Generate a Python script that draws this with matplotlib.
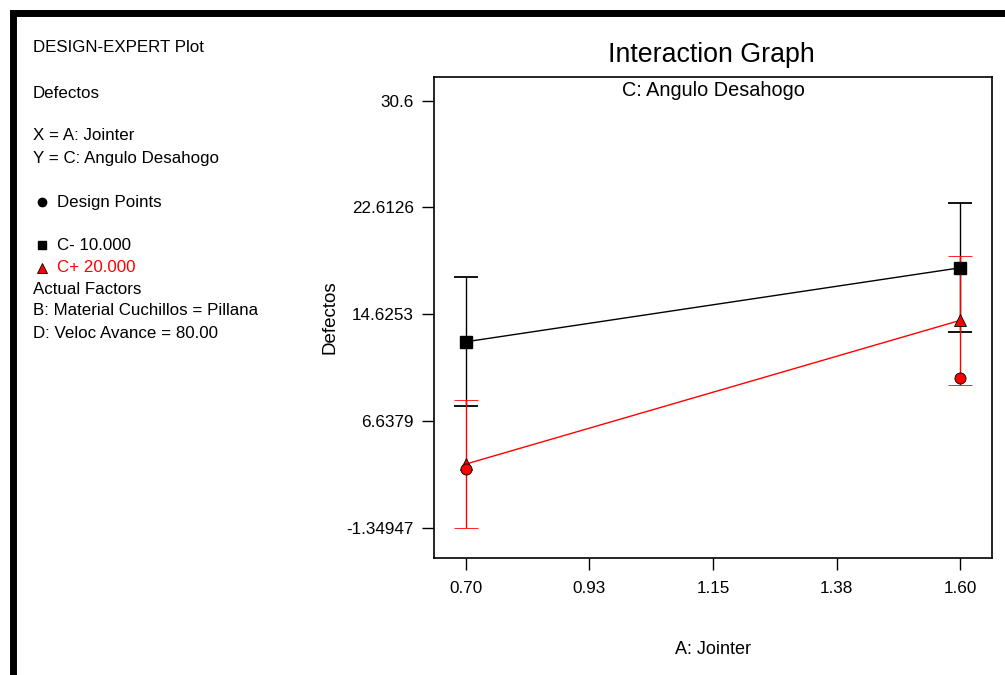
import matplotlib
matplotlib.use("Agg")
import matplotlib.pyplot as plt
from matplotlib.patches import Rectangle

plt.rcParams['font.family'] = 'Liberation Sans'
FAM = ['Liberation Sans', 'DejaVu Sans']

# ---- data ----
jointer = [0.70, 1.60]
c_minus_mean = [12.57, 18.10]
c_minus_lsd = [4.82, 4.82]
c_plus_mean = [3.43, 14.17]
c_plus_lsd = [4.80, 4.83]
design_x_black = [0.70, 1.60]
design_y_black = [12.57, 18.10]
design_x_red = [0.70, 1.60]
design_y_red = [3.05, 9.86]

xticks = [0.70, 0.925, 1.15, 1.375, 1.60]
xtick_labels = ["0.70", "0.93", "1.15", "1.38", "1.60"]
yticks = [-1.34947, 6.6379, 14.6253, 22.6126, 30.6]
ytick_labels = ["-1.34947", "6.6379", "14.6253", "22.6126", "30.6"]

W, H = 1005, 675
fig = plt.figure(figsize=(W / 100, H / 100), dpi=100)

# frame border (top and left visible, cropped)
fig.add_artist(Rectangle((13 / W, -0.1), 1.2, 1 - 13 / H + 0.1,
                         transform=fig.transFigure, fill=False,
                         edgecolor='black', linewidth=5))

ax = fig.add_axes([434 / W, 1 - 558 / H, (992 - 434) / W, (558 - 77) / H])

ax.errorbar(jointer, c_minus_mean, yerr=c_minus_lsd, color='black', lw=1.0,
            capsize=8.6, capthick=1.3, marker='s', markersize=8,
            markerfacecolor='black', markeredgecolor='black', zorder=3)
ax.errorbar(jointer, c_plus_mean, yerr=c_plus_lsd, color='red', lw=1.0,
            capsize=8.6, capthick=1.3, marker='^', markersize=9,
            markerfacecolor='red', markeredgecolor='black', markeredgewidth=0.6,
            zorder=4)
ax.plot(design_x_black, design_y_black, 'o', color='black', markersize=8, zorder=5)
ax.plot(design_x_red, design_y_red, 'o', markerfacecolor='red',
        markeredgecolor='black', markeredgewidth=0.6, markersize=8, zorder=6)

ax.set_xlim(0.642, 1.658)
ax.set_ylim(-3.59, 32.36)
ax.set_xticks(xticks)
ax.set_xticklabels(xtick_labels, family=FAM)
ax.set_yticks(yticks)
ax.set_yticklabels(ytick_labels, family=FAM)
ax.tick_params(axis='both', direction='out', length=8.6, width=1.0,
               labelsize=12.3, pad=6)
ax.tick_params(axis='x', pad=8)
for sp in ax.spines.values():
    sp.set_linewidth(1.2)

ax.set_xlabel("A: Jointer", fontsize=13, labelpad=32, family=FAM)
ax.set_ylabel("Defectos", fontsize=13.5, labelpad=6, family=FAM)
ax.text(0.5, 0.992, "C: Angulo Desahogo", transform=ax.transAxes,
        ha='center', va='top', fontsize=14.3, family=FAM)
fig.text(711 / W, 1 - 55 / H, "Interaction Graph", ha='center', va='center',
         fontsize=19.3, family=FAM)

# left legend / info text
tx = 33 / W
def put(y, s, x=tx, color='black'):
    fig.text(x, 1 - y / H, s, ha='left', va='center', fontsize=12.2,
             color=color, family=FAM)

put(48, "DESIGN-EXPERT Plot")
put(93, "Defectos")
put(136, "X = A: Jointer")
put(158, "Y = C: Angulo Desahogo")
put(202, "Design Points", x=57 / W)
put(245, "C- 10.000", x=57 / W)
put(267, "C+ 20.000", x=57 / W, color='red')
put(289, "Actual Factors")
put(311, "B: Material Cuchillos = Pillana")
put(333, "D: Veloc Avance = 80.00")

fig.lines.append(plt.Line2D([42 / W], [1 - 202 / H], marker='o', color='black',
                            markersize=6, transform=fig.transFigure))
fig.lines.append(plt.Line2D([42 / W], [1 - 245 / H], marker='s', color='black',
                            markersize=5.5, transform=fig.transFigure))
fig.lines.append(plt.Line2D([42 / W], [1 - 268 / H], marker='^', markerfacecolor='red',
                            markeredgecolor='black', markeredgewidth=0.6,
                            markersize=6.5, transform=fig.transFigure))

fig.savefig("out.png", dpi=100)
